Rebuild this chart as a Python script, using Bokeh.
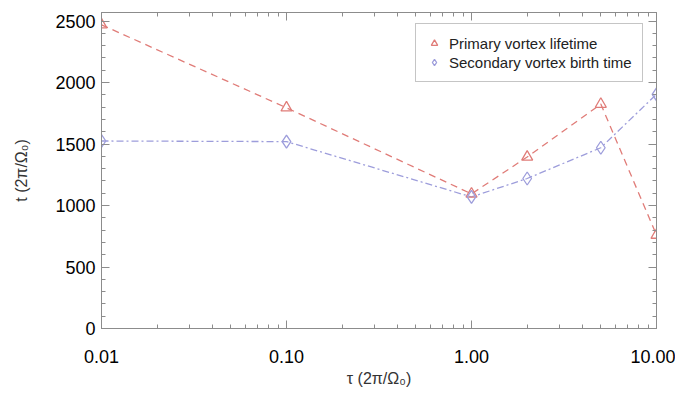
from bokeh.plotting import figure
from bokeh.models import (Range1d, FixedTicker, PrintfTickFormatter, LogAxis, LinearAxis,
                          Legend, LegendItem)
from bokeh.embed import file_html
from bokeh.resources import INLINE

# ---- data ----
tau = [0.01, 0.1, 1.0, 2.0, 5.0, 10.0]
primary_lifetime = [2470, 1795, 1095, 1395, 1825, 760]
secondary_birth = [1525, 1520, 1070, 1220, 1470, 1905]

x_ticks = [0.01, 0.1, 1.0, 10.0]
x_minor = [m * d for d in [0.01, 0.1, 1.0] for m in range(2, 10)]
y_ticks = [0, 500, 1000, 1500, 2000, 2500]
y_minor = list(range(0, 2600, 100))

RED = "#e07c78"
BLUE = "#9d9ddb"
AXC = "#8c8c8c"
FONT = "Liberation Sans"

p = figure(frame_width=555, frame_height=316, x_axis_type="log",
           x_range=Range1d(0.01, 10.0), y_range=Range1d(0, 2570),
           output_backend="svg", toolbar_location=None,
           min_border_left=101, min_border_right=19, min_border_top=12, min_border_bottom=10)
p.grid.visible = False
p.outline_line_color = AXC
p.background_fill_color = "white"
p.border_fill_color = "white"

# lines
p.line(tau, primary_lifetime, line_color=RED, line_dash="7 5", line_width=1.3)
p.line(tau, secondary_birth, line_color=BLUE, line_dash="7 3 2 3", line_width=1.3)
r1 = p.scatter(tau, primary_lifetime, marker="triangle", size=11, fill_color=None,
               line_color=RED, line_width=1.3)
r2 = p.scatter(tau, secondary_birth, marker="diamond", size=13, fill_color=None,
               line_color=BLUE, line_width=1.3)


def style_axis(ax, labels=True):
    ax.axis_line_color = AXC
    ax.major_tick_line_color = AXC
    ax.minor_tick_line_color = AXC
    ax.major_tick_in = 8
    ax.major_tick_out = 0
    ax.minor_tick_in = 4
    ax.minor_tick_out = 0
    if not labels:
        ax.major_label_text_font_size = "0px"
        ax.major_label_text_alpha = 0
    else:
        ax.major_label_text_font = FONT
        ax.major_label_text_font_size = "18px"
        ax.major_label_text_color = "#000000"


xt = FixedTicker(ticks=x_ticks, minor_ticks=x_minor)
yt = FixedTicker(ticks=y_ticks, minor_ticks=y_minor)

xa = p.xaxis[0]
xa.ticker = xt
xa.formatter = PrintfTickFormatter(format="%.2f")
style_axis(xa)
xa.major_label_standoff = 21
xa.axis_label = "τ (2π/Ω₀)"
xa.axis_label_text_font = FONT
xa.axis_label_text_font_style = "normal"
xa.axis_label_text_font_size = "16px"
xa.axis_label_text_color = "#333333"
xa.axis_label_standoff = 4

ya = p.yaxis[0]
ya.ticker = yt
ya.formatter = PrintfTickFormatter(format="%d")
style_axis(ya)
ya.major_label_standoff = 6
ya.axis_label = "t (2π/Ω₀)"
ya.axis_label_text_font = FONT
ya.axis_label_text_font_style = "normal"
ya.axis_label_text_font_size = "16px"
ya.axis_label_text_color = "#333333"
ya.axis_label_standoff = 22

top = LogAxis(ticker=FixedTicker(ticks=x_ticks, minor_ticks=x_minor))
style_axis(top, labels=False)
p.add_layout(top, "above")
right = LinearAxis(ticker=FixedTicker(ticks=y_ticks, minor_ticks=y_minor))
style_axis(right, labels=False)
p.add_layout(right, "right")

legend = Legend(items=[LegendItem(label="Primary vortex lifetime", renderers=[r1]),
                       LegendItem(label="Secondary vortex birth time", renderers=[r2])],
                location=(314, 246))
legend.label_text_font = FONT
legend.label_text_font_size = "15px"
legend.label_text_color = "#222222"
legend.border_line_color = AXC
legend.border_line_width = 1
legend.padding = 10
legend.spacing = 1
legend.margin = 0
legend.glyph_width = 16
legend.glyph_height = 18
legend.label_height = 18
legend.label_standoff = 7
p.add_layout(legend, "center")

open("out.html", "w").write(file_html(p, INLINE))
